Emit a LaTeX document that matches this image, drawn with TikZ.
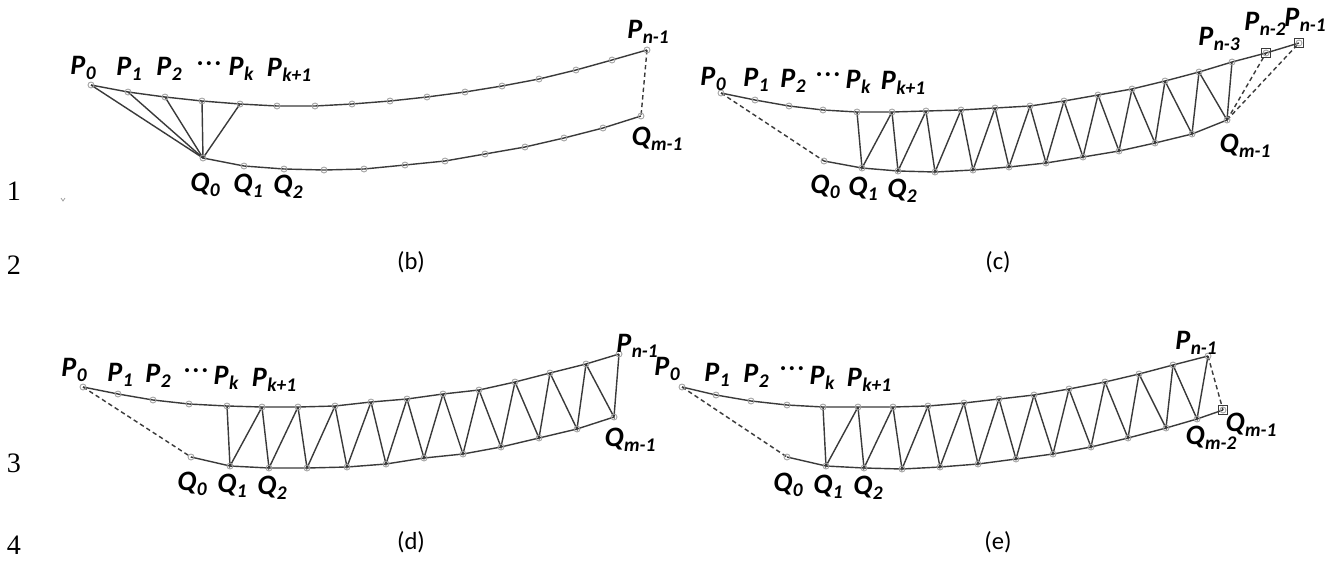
\documentclass[tikz,border=0pt]{standalone}
\usepackage{fontspec}
\setmainfont{Carlito}
\newfontfamily\linefont{Liberation Serif}
\definecolor{ink}{HTML}{3A3A3A}
\definecolor{dotgray}{HTML}{A0A0A0}
\newcommand\lbl[2]{#1\kern0.3pt\raisebox{-0.35ex}{\fontsize{11}{12}\selectfont #2}}
\newcommand\midots{{\mdseries\upshape\textperiodcentered\kern1pt\textperiodcentered\kern1pt\textperiodcentered}}

\begin{document}
\begin{tikzpicture}[x=0.02cm,y=-0.02cm,
  curve/.style={ink,line width=0.8pt,line join=round},
  edge/.style={ink,line width=0.8pt},
  gap/.style={ink,line width=0.8pt,dash pattern=on 2.5pt off 1.8pt},
  pt/.style={circle,draw=dotgray,line width=0.5pt,inner sep=0pt,minimum size=3.4pt},
  box/.style={rectangle,draw=ink,line width=0.6pt,inner sep=0pt,minimum size=5pt},
  lab/.style={font=\fontsize{16}{18}\selectfont\bfseries\itshape,inner sep=0pt},
  panelcap/.style={font=\fontsize{14}{16}\selectfont,inner sep=0pt},
  num/.style={font=\linefont\fontsize{16}{18}\selectfont,inner sep=0pt}]
  \useasboundingbox (0,0) rectangle (1330,579);

  % line numbers
  \node[num] (n1) at (14,191) {1};
  \node[num] (n2) at (14,265) {2};
  \node[num] (n3) at (14,463) {3};
  \node[num] (n4) at (14,545) {4};
  \draw[dotgray,line width=0.4pt] (61,198)--(63,201)--(65,198);

  % ---- (b) fan from Q0
  \foreach \x/\y [count=\i from 0] in {91/85,128/92,165/97,202/101,240/104,277/106,315/106,352/104,
      390/101,427/97,465/92,502/86,539/79,576/70,612/60,647/50}
    \coordinate (bt\i) at (\x,\y);
  \foreach \x/\y [count=\i from 0] in {203/158,244/166,284/169,324/170,364/169,405/165,445/161,485/154,
      525/147,564/138,603/128,641/116}
    \coordinate (bb\i) at (\x,\y);
  \draw[curve] (bt0) \foreach \i in {1,...,15}{--(bt\i)};
  \draw[curve] (bb0) \foreach \i in {1,...,11}{--(bb\i)};
  \foreach \i in {0,...,4} \draw[edge] (bb0)--(bt\i);
  \draw[gap] (bt15)--(bb11);
  \foreach \i in {0,...,15} \node[pt] (btm\i) at (bt\i) {};
  \foreach \i in {0,...,11} \node[pt] (bbm\i) at (bb\i) {};
  \node[lab] (bP0) at (83,68) {\lbl{P}{0}};
  \node[lab] (bP1) at (129,69) {\lbl{P}{1}};
  \node[lab] (bP2) at (169,69) {\lbl{P}{2}};
  \node[lab] (bdots) at (209,67) {\midots};
  \node[lab] (bPk) at (241,69) {\lbl{P}{k}};
  \node[lab] (bPk1) at (289,70) {\lbl{P}{k+1}};
  \node[lab] (bQ0) at (205,185) {\lbl{Q}{0}};
  \node[lab] (bQ1) at (248,186) {\lbl{Q}{1}};
  \node[lab] (bQ2) at (288,187) {\lbl{Q}{2}};
  \node[lab] (bPn1) at (648,32) {\lbl{P}{n-1}};
  \node[lab] (bQm1) at (657,139) {\lbl{Q}{m-1}};
  \node[panelcap] (capb) at (411,262) {(b)};

  % ---- (c) strip, two points left over
  \foreach \x/\y [count=\i from 0] in {721/93,755/100,789/106,823/110,857/112,892/112,926/111,961/110,
      995/108,1030/106,1064/101,1098/95,1132/89,1165/81,1199/72,1232/62,1266/53,1299/43}
    \coordinate (ct\i) at (\x,\y);
  \foreach \x/\y [count=\i from 0] in {824/161,862/168,898/171,935/172,973/170,1009/167,1046/163,1083/157,
      1119/151,1155/143,1192/134,1227/120}
    \coordinate (cb\i) at (\x,\y);
  \draw[curve] (ct0) \foreach \i in {1,...,17}{--(ct\i)};
  \draw[curve] (cb0) \foreach \i in {1,...,11}{--(cb\i)};
  \foreach \i [evaluate=\i as \j using int(\i+3),evaluate=\i as \k using int(\i+4)] in {1,...,11}
    \draw[edge] (ct\j)--(cb\i)--(ct\k);
  \draw[gap] (ct0)--(cb0);
  \draw[gap] (cb11)--(ct16);
  \draw[gap] (cb11)--(ct17);
  \foreach \i in {0,...,17} \node[pt] (ctm\i) at (ct\i) {};
  \foreach \i in {0,...,11} \node[pt] (cbm\i) at (cb\i) {};
  \node[box] (cbox1) at (ct16) {};
  \node[box] (cbox2) at (ct17) {};
  \node[lab] (cP0) at (713,79) {\lbl{P}{0}};
  \node[lab] (cP1) at (756,80) {\lbl{P}{1}};
  \node[lab] (cP2) at (793,81) {\lbl{P}{2}};
  \node[lab] (cdots) at (828,78) {\midots};
  \node[lab] (cPk) at (858,82) {\lbl{P}{k}};
  \node[lab] (cPk1) at (903,83) {\lbl{P}{k+1}};
  \node[lab] (cQ0) at (825,187) {\lbl{Q}{0}};
  \node[lab] (cQ1) at (863,189) {\lbl{Q}{1}};
  \node[lab] (cQ2) at (902,191) {\lbl{Q}{2}};
  \node[lab] (cPn3) at (1219,39) {\lbl{P}{n-3}};
  \node[lab] (cPn2) at (1265,24) {\lbl{P}{n-2}};
  \node[lab] (cPn1) at (1305,20) {\lbl{P}{n-1}};
  \node[lab] (cQm1) at (1245,146) {\lbl{Q}{m-1}};
  \node[panelcap] (capc) at (998,262) {(c)};

  % ---- (d) strip, closed at the end
  \foreach \x/\y [count=\i from 0] in {83/387,118/394,153/400,189/404,227/406,262/407,298/407,335/406,
      371/402,407/399,443/394,479/390,515/382,550/373,586/364,619/354}
    \coordinate (dt\i) at (\x,\y);
  \foreach \x/\y [count=\i from 0] in {191/457,230/466,269/468,307/468,347/467,386/464,424/458,463/454,
      501/447,539/438,577/429,614/417}
    \coordinate (db\i) at (\x,\y);
  \draw[curve] (dt0) \foreach \i in {1,...,15}{--(dt\i)};
  \draw[curve] (db0) \foreach \i in {1,...,11}{--(db\i)};
  \foreach \i [evaluate=\i as \j using int(\i+3),evaluate=\i as \k using int(\i+4)] in {1,...,11}
    \draw[edge] (dt\j)--(db\i)--(dt\k);
  \draw[gap] (dt0)--(db0);
  \foreach \i in {0,...,15} \node[pt] (dtm\i) at (dt\i) {};
  \foreach \i in {0,...,11} \node[pt] (dbm\i) at (db\i) {};
  \node[lab] (dP0) at (74,370) {\lbl{P}{0}};
  \node[lab] (dP1) at (120,375) {\lbl{P}{1}};
  \node[lab] (dP2) at (158,376) {\lbl{P}{2}};
  \node[lab] (ddots) at (196,374) {\midots};
  \node[lab] (dPk) at (226,378) {\lbl{P}{k}};
  \node[lab] (dPk1) at (274,380) {\lbl{P}{k+1}};
  \node[lab] (dQ0) at (192,484) {\lbl{Q}{0}};
  \node[lab] (dQ1) at (232,486) {\lbl{Q}{1}};
  \node[lab] (dQ2) at (272,488) {\lbl{Q}{2}};
  \node[lab] (dPn1) at (637,346) {\lbl{P}{n-1}};
  \node[lab] (dQm1) at (630,440) {\lbl{Q}{m-1}};
  \node[panelcap] (capd) at (411,542) {(d)};

  % ---- (e) strip, one point left over below
  \foreach \x/\y [count=\i from 0] in {682/387,716/395,751/401,787/405,823/407,858/407,893/407,928/406,
      964/403,999/399,1034/395,1069/389,1105/382,1139/374,1173/365,1208/356}
    \coordinate (et\i) at (\x,\y);
  \foreach \x/\y [count=\i from 0] in {787/457,826/466,864/468,902/469,940/467,978/464,1016/459,1053/454,
      1091/447,1128/438,1166/428,1197/419,1223/410}
    \coordinate (eb\i) at (\x,\y);
  \draw[curve] (et0) \foreach \i in {1,...,15}{--(et\i)};
  \draw[curve] (eb0) \foreach \i in {1,...,12}{--(eb\i)};
  \foreach \i [evaluate=\i as \j using int(\i+3),evaluate=\i as \k using int(\i+4)] in {1,...,11}
    \draw[edge] (et\j)--(eb\i)--(et\k);
  \draw[gap] (et0)--(eb0);
  \draw[gap] (et15)--(eb12);
  \foreach \i in {0,...,15} \node[pt] (etm\i) at (et\i) {};
  \foreach \i in {0,...,12} \node[pt] (ebm\i) at (eb\i) {};
  \node[box] (ebox) at (eb12) {};
  \node[lab] (eP0) at (667,369) {\lbl{P}{0}};
  \node[lab] (eP1) at (717,375) {\lbl{P}{1}};
  \node[lab] (eP2) at (756,376) {\lbl{P}{2}};
  \node[lab] (edots) at (792,372) {\midots};
  \node[lab] (ePk) at (822,378) {\lbl{P}{k}};
  \node[lab] (ePk1) at (869,380) {\lbl{P}{k+1}};
  \node[lab] (eQ0) at (788,485) {\lbl{Q}{0}};
  \node[lab] (eQ1) at (828,487) {\lbl{Q}{1}};
  \node[lab] (eQ2) at (868,488) {\lbl{Q}{2}};
  \node[lab] (ePn1) at (1196,343) {\lbl{P}{n-1}};
  \node[lab] (eQm2) at (1211,438) {\lbl{Q}{m-2}};
  \node[lab] (eQm1) at (1251,425) {\lbl{Q}{m-1}};
  \node[panelcap] (cape) at (998,542) {(e)};
\end{tikzpicture}
\end{document}
